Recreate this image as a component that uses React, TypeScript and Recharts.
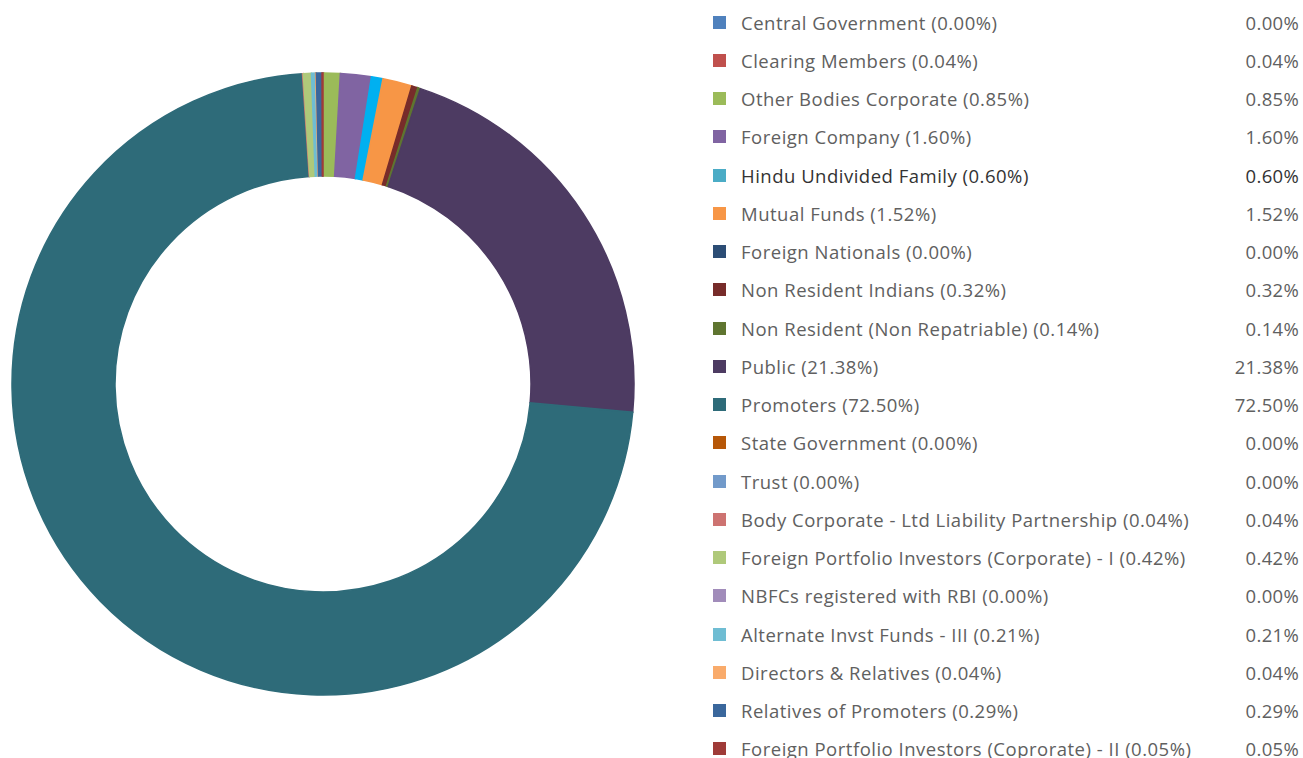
import React from 'react';
import { PieChart, Pie, Cell, Legend } from 'recharts';

const categories = [
  'Central Government',
  'Clearing Members',
  'Other Bodies Corporate',
  'Foreign Company',
  'Hindu Undivided Family',
  'Mutual Funds',
  'Foreign Nationals',
  'Non Resident Indians',
  'Non Resident (Non Repatriable)',
  'Public',
  'Promoters',
  'State Government',
  'Trust',
  'Body Corporate - Ltd Liability Partnership',
  'Foreign Portfolio Investors (Corporate) - I',
  'NBFCs registered with RBI',
  'Alternate Invst Funds - III',
  'Directors & Relatives',
  'Relatives of Promoters',
  'Foreign Portfolio Investors (Coprorate) - II',
];

const values = [
  0.0, 0.04, 0.85, 1.6, 0.6, 1.52, 0.0, 0.32, 0.14, 21.38, 72.5, 0.0, 0.0, 0.04, 0.42, 0.0, 0.21, 0.04, 0.29, 0.05,
];

const legendColors = [
  '#4F81BD', '#C0504D', '#9BBB59', '#8064A2', '#4BACC6', '#F79646', '#2C4D75', '#772C2A', '#5F7530', '#4D3B62',
  '#2E6B79', '#B65708', '#729ACA', '#CD7371', '#AFC97A', '#A18CBA', '#6FBDD3', '#F9AB6B', '#3A679C', '#9F3B38',
];

const sliceColors = [
  '#4F81BD', '#C0807A', '#9BBB59', '#8064A2', '#00B0F0', '#F79646', '#2C4D75', '#772C2A', '#5F7530', '#4D3B62',
  '#2E6B79', '#B65708', '#729ACA', '#CD7371', '#AFC97A', '#A18CBA', '#6FBDD3', '#F9AB6B', '#3A679C', '#9F3B38',
];

const highlighted = 'Hindu Undivided Family';

const data = categories.map((name, i) => ({ name, value: values[i] }));

const fmt = (v: number) => v.toFixed(2) + '%';

const ROW_H = 38.25;
const FONT = "'Open Sans', 'Liberation Sans', sans-serif";

const renderLegend = () => (
  <div style={{ position: 'relative', width: 598, fontFamily: FONT }}>
    {categories.map((name, i) => (
      <div
        key={name}
        style={{
          position: 'absolute',
          left: 0,
          top: 3 + i * ROW_H,
          width: 594,
          height: ROW_H,
          display: 'flex',
          alignItems: 'center',
          fontSize: 18.5,
          letterSpacing: 0.5,
          color: name === highlighted ? '#333333' : '#606060',
          whiteSpace: 'nowrap',
        }}
      >
        <span
          style={{
            display: 'inline-block',
            width: 13,
            height: 13,
            marginLeft: 8,
            marginRight: 15,
            background: legendColors[i],
            flex: '0 0 auto',
          }}
        />
        <span style={{ flex: '1 1 auto' }}>{`${name} (${fmt(values[i])})`}</span>
        <span style={{ flex: '0 0 auto', textAlign: 'right', letterSpacing: 0.3 }}>{fmt(values[i])}</span>
      </div>
    ))}
  </div>
);

export default function App() {
  return (
    <div style={{ position: 'absolute', left: 0, top: 0, width: 1303, height: 758, overflow: 'hidden', background: '#fff' }}>
      <PieChart width={1303} height={758} margin={{ top: 0, right: 0, bottom: 0, left: 0 }}>
        <Pie
          data={data}
          dataKey="value"
          nameKey="name"
          cx={323}
          cy={384}
          innerRadius={208}
          outerRadius={311}
          startAngle={90}
          endAngle={-270}
          isAnimationActive={false}
          stroke="none"
        >
          {data.map((d, i) => (
            <Cell key={d.name} fill={sliceColors[i]} stroke={sliceColors[i]} strokeWidth={d.value > 0 ? 1.5 : 0} />
          ))}
        </Pie>
        <Legend
          layout="vertical"
          align="right"
          verticalAlign="top"
          content={renderLegend}
          wrapperStyle={{ position: 'absolute', left: 705, top: 0, width: 598, height: 758 }}
        />
      </PieChart>
    </div>
  );
}
